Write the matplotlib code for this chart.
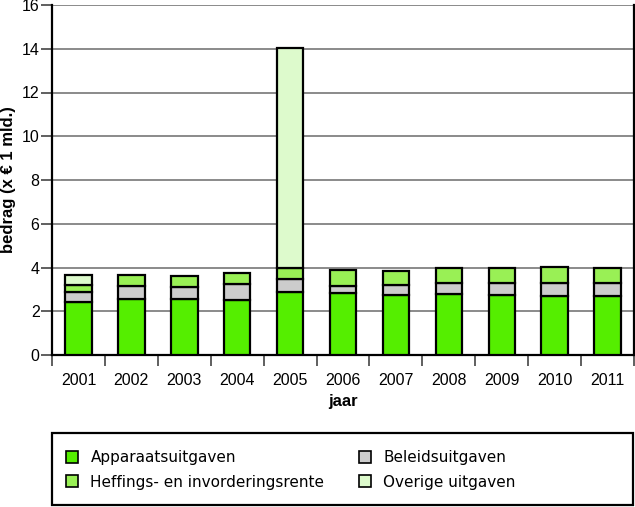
import numpy as np
import matplotlib
matplotlib.use("Agg")
import matplotlib.pyplot as plt
from matplotlib.patches import Patch, Rectangle

#-- DATI (x € 1 mld.)
jaren        = ['2001', '2002', '2003', '2004', '2005', '2006', '2007', '2008', '2009', '2010', '2011']
apparaat     = [2.41, 2.57, 2.54, 2.50, 2.86, 2.83, 2.74, 2.79, 2.74, 2.70, 2.70]
beleid       = [0.47, 0.58, 0.58, 0.75, 0.61, 0.34, 0.44, 0.49, 0.54, 0.61, 0.61]
heffingen    = [0.31, 0.52, 0.48, 0.51, 0.49, 0.73, 0.67, 0.71, 0.68, 0.71, 0.68]
overige      = [0.47, 0.00, 0.00, 0.00, 10.09, 0.00, 0.00, 0.00, 0.00, 0.00, 0.00]

nomi   = ['Apparaatsuitgaven', 'Beleidsuitgaven', 'Heffings- en invorderingsrente', 'Overige uitgaven']
colori = ['#55ee00', '#cccccc', '#99f055', '#ddfacc']

plt.rcParams['font.family'] = ['Liberation Sans', 'DejaVu Sans']
W, H = 635, 507

fig = plt.figure(figsize=(W/100, H/100), dpi=100)
ax  = fig.add_axes([52/W, 152/H, 582/W, 350/H])

x = np.arange(len(jaren))
serie = [apparaat, beleid, heffingen, overige]
bottom = np.zeros(len(jaren))
for vals, col in zip(serie, colori):
    vals = np.array(vals)
    mask = vals > 0
    ax.bar(x[mask], vals[mask], bottom=bottom[mask], width=0.5, color=col,
           edgecolor='black', linewidth=1.6, zorder=3)
    bottom += vals

ax.set_xlim(-0.5, len(jaren) - 0.5)
ax.set_ylim(0, 16)
ax.set_yticks(np.arange(0, 17, 2))
ax.yaxis.grid(True, color='#777777', linewidth=1.2, zorder=0)
ax.set_xticks(x)
ax.set_xticklabels(jaren, fontsize=11.5)
ax.set_xticks(np.arange(-0.5, len(jaren), 1), minor=True)
ax.tick_params(axis='x', which='major', length=0, pad=13)
ax.tick_params(axis='x', which='minor', length=8, width=1.2, direction='out', color='#444444')
ax.tick_params(axis='y', length=8, width=1.2, labelsize=11.5, pad=1, color='#444444')
for s in ['left', 'right', 'bottom']:
    ax.spines[s].set_linewidth(1.6)
ax.spines['top'].set_visible(False)

ax.set_ylabel('bedrag (x € 1 mld.)', fontsize=12, fontweight='bold')
ax.yaxis.set_label_coords(-36/582, 0.5)
ax.set_xlabel('jaar', fontsize=12, fontweight='bold', labelpad=4)

#-- LEGENDA (box + due colonne)
fig.patches.append(Rectangle((52/W, 2/H), 581/W, 72/H, transform=fig.transFigure,
                             facecolor='white', edgecolor='black', linewidth=1.6))
handles = [Patch(facecolor=c, edgecolor='black', linewidth=1.2) for c in colori]
opts = dict(loc='center left', frameon=False, borderpad=0, borderaxespad=0,
            handlelength=0.8, handleheight=0.8, handletextpad=0.8, labelspacing=0.6,
            prop={'family': ['DejaVu Sans'], 'size': 11})
leg1 = fig.legend([handles[0], handles[2]], [nomi[0], nomi[2]],
                  bbox_to_anchor=(66/W, 37/H), **opts)
leg2 = fig.legend([handles[1], handles[3]], [nomi[1], nomi[3]],
                  bbox_to_anchor=(359/W, 37/H), **opts)

fig.savefig('out.png', dpi=100)
